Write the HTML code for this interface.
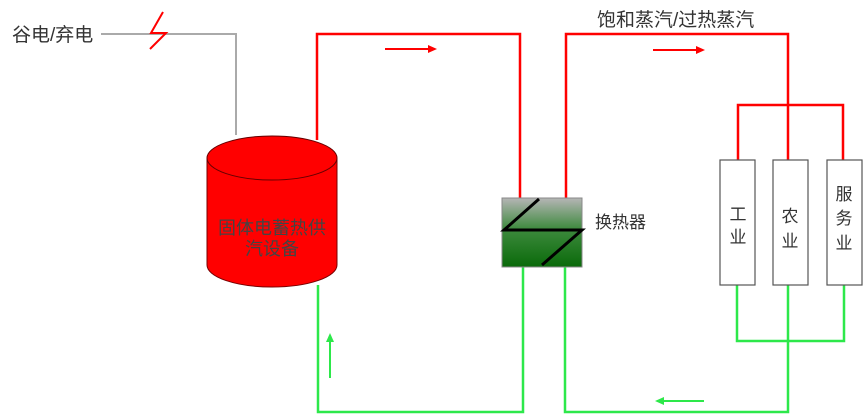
<!DOCTYPE html>
<html><head><meta charset="utf-8"><style>
html,body{margin:0;padding:0;background:#fff;width:865px;height:416px;overflow:hidden}
svg text{font-family:"Liberation Sans","Noto Sans CJK SC",sans-serif;fill:#333}
</style></head><body>
<svg width="865" height="416" xmlns="http://www.w3.org/2000/svg">
<defs>
<linearGradient id="g" x1="0" y1="0" x2="0" y2="1">
<stop offset="0" stop-color="#b5b5b5"/><stop offset="0.45" stop-color="#3d8a3d"/><stop offset="1" stop-color="#0a6a0a"/>
</linearGradient>
</defs>
<text x="12" y="41" font-size="19">谷电/弃电</text>
<polyline points="101,34 236,34 236,135" fill="none" stroke="#aaa" stroke-width="2"/>
<polyline points="163,12 151,33 166,33 150,49" fill="none" stroke="#f00" stroke-width="2"/>
<polyline points="317,140 317,34 520,34 520,198" fill="none" stroke="#f00" stroke-width="2.5"/>
<polyline points="566,198 566,34 788,34 788,160" fill="none" stroke="#f00" stroke-width="2.5"/>
<polyline points="738,160 738,105 843,105 843,160" fill="none" stroke="#f00" stroke-width="2.5"/>
<line x1="385" y1="49" x2="430" y2="49" stroke="#f00" stroke-width="2"/><polygon points="437,49 428,45 428,53" fill="#f00"/>
<line x1="653" y1="50" x2="698" y2="50" stroke="#f00" stroke-width="2"/><polygon points="705,50 696,46 696,54" fill="#f00"/>
<text x="597" y="26" font-size="19">饱和蒸汽/过热蒸汽</text>
<polyline points="523,267 523,412 318,412 318,285" fill="none" stroke="#2de84a" stroke-width="2.5"/>
<polyline points="565,267 565,412 788,412 788,285" fill="none" stroke="#2de84a" stroke-width="2.5"/>
<polyline points="737,285 737,341 844,341 844,285" fill="none" stroke="#2de84a" stroke-width="2.5"/>
<line x1="330" y1="378" x2="330" y2="340" stroke="#2de84a" stroke-width="2"/><polygon points="330,333 326,342 334,342" fill="#2de84a"/>
<line x1="704" y1="401" x2="662" y2="401" stroke="#2de84a" stroke-width="2"/><polygon points="655,401 664,397 664,405" fill="#2de84a"/>
<path d="M207,158 L207,265 A65,22 0 0 0 337,265 L337,158 Z" fill="#f00" stroke="#700" stroke-width="1"/>
<ellipse cx="272" cy="158" rx="65" ry="22" fill="#f00" stroke="#600" stroke-width="1"/>
<text x="272" y="234" font-size="18" text-anchor="middle" style="fill:#444">固体电蓄热供</text>
<text x="272" y="255" font-size="18" text-anchor="middle" style="fill:#444">汽设备</text>
<rect x="502" y="198" width="80" height="69" fill="url(#g)" stroke="#888" stroke-width="1"/>
<polyline points="539,199 504,230 582,230 542,265" fill="none" stroke="#000" stroke-width="3"/>
<text x="595" y="228" font-size="17">换热器</text>
<rect x="720" y="160" width="35" height="125" fill="#fff" stroke="#555" stroke-width="1.2"/>
<rect x="773" y="160" width="35" height="125" fill="#fff" stroke="#555" stroke-width="1.2"/>
<rect x="827" y="160" width="35" height="125" fill="#fff" stroke="#555" stroke-width="1.2"/>
<text x="738" y="220" font-size="17" text-anchor="middle">工</text>
<text x="738" y="243" font-size="17" text-anchor="middle">业</text>
<text x="790" y="222" font-size="17" text-anchor="middle">农</text>
<text x="790" y="247" font-size="17" text-anchor="middle">业</text>
<text x="844" y="200" font-size="17" text-anchor="middle">服</text>
<text x="844" y="224" font-size="17" text-anchor="middle">务</text>
<text x="844" y="249" font-size="17" text-anchor="middle">业</text>
</svg>
</body></html>
